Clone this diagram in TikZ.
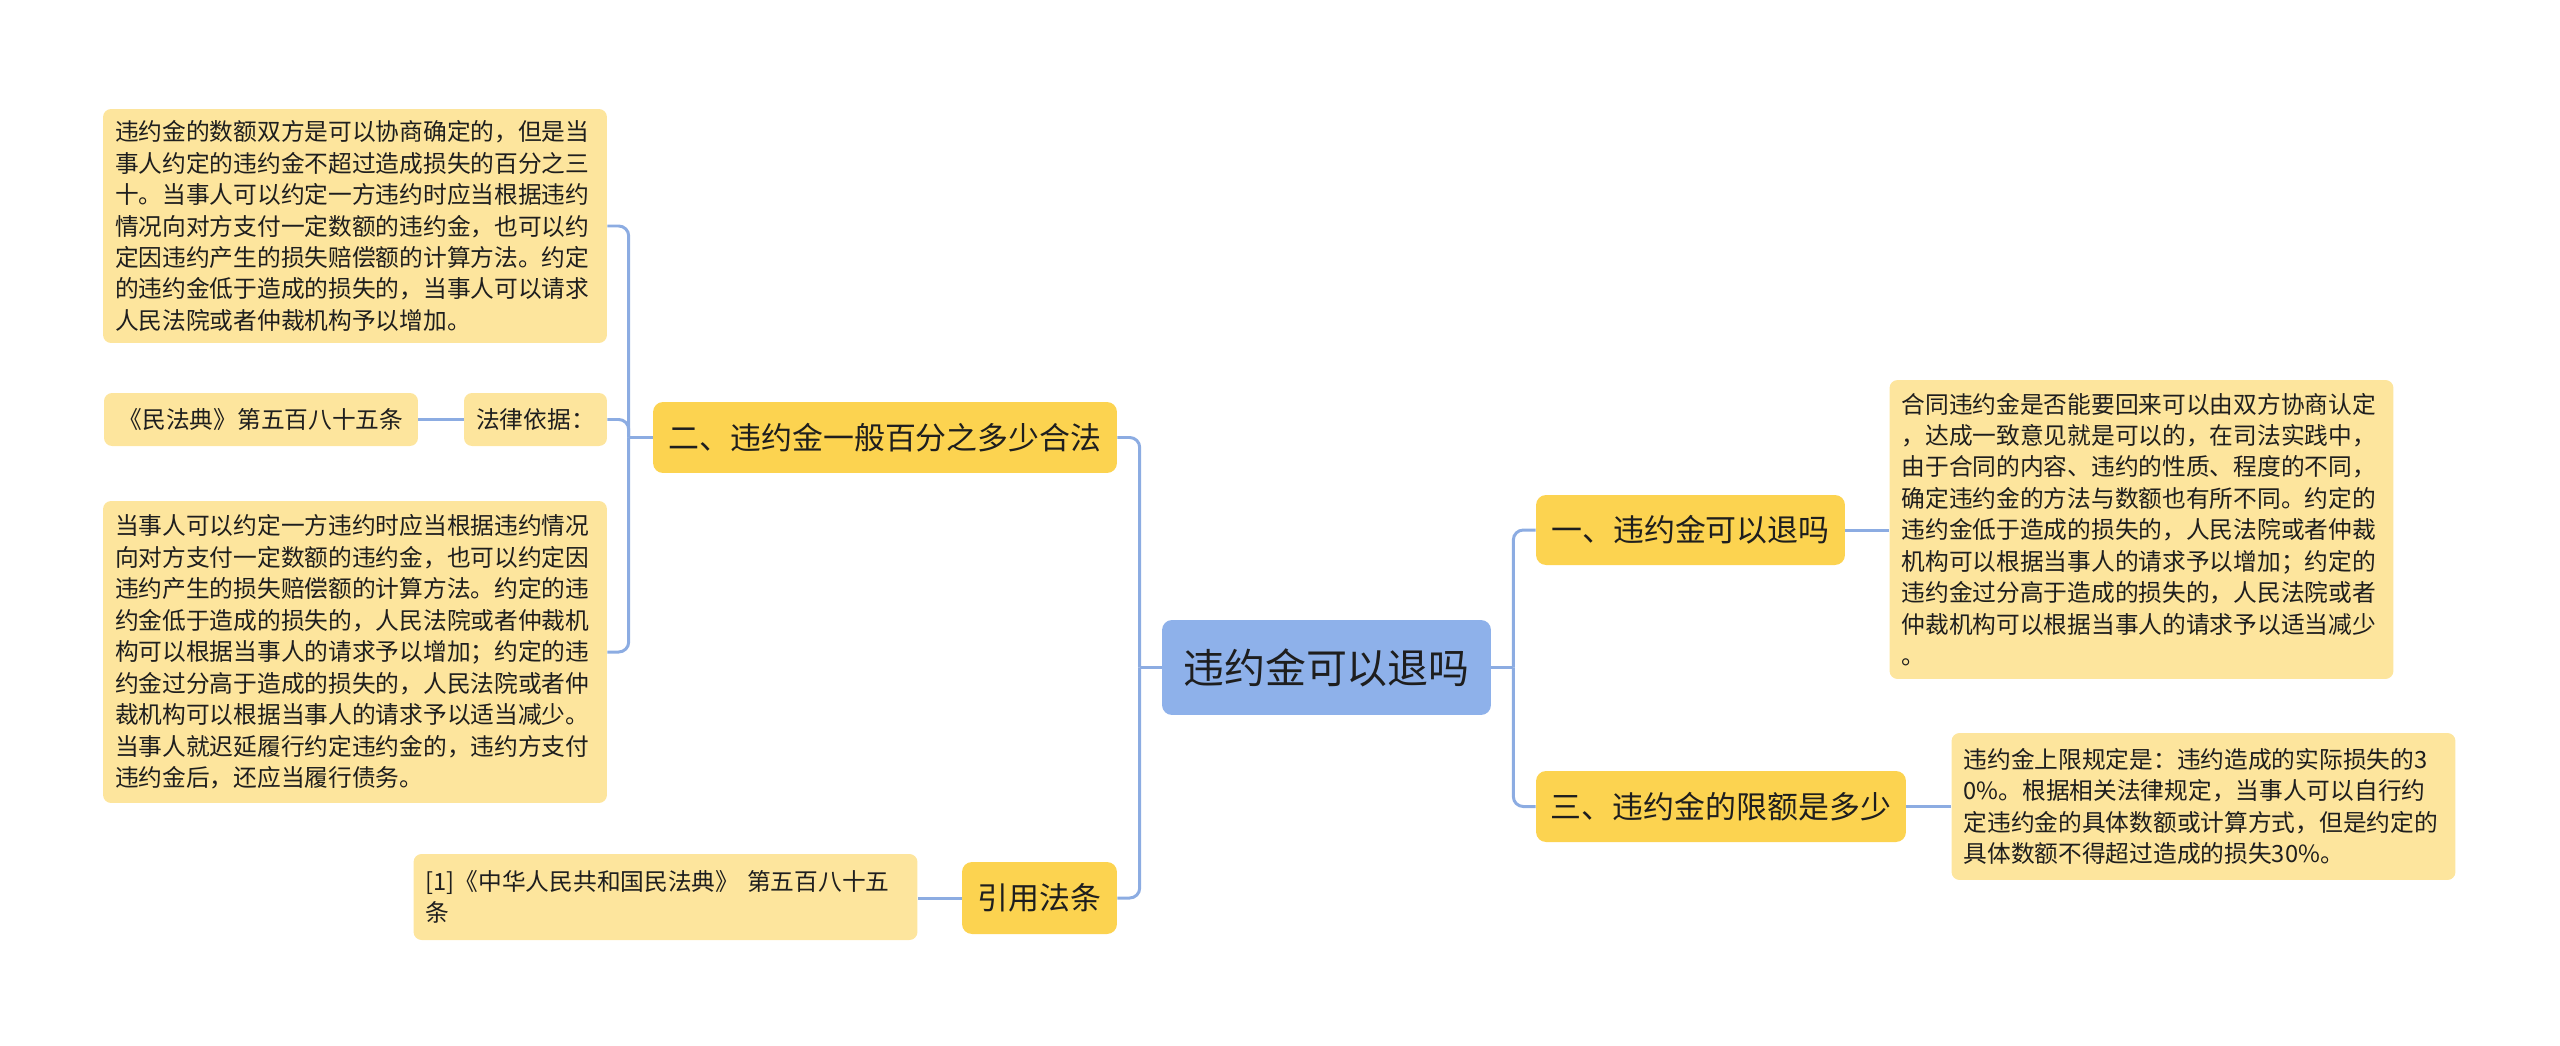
\documentclass[tikz,border=0pt]{standalone}
\usepackage{fontspec}
\newfontfamily\cjk{Noto Sans CJK SC}
\usepackage{tikz}
\definecolor{rootblue}{RGB}{142,177,234}
\definecolor{branchgold}{RGB}{252,211,80}
\definecolor{leafsand}{RGB}{253,229,157}
\definecolor{linkblue}{RGB}{140,172,226}
\definecolor{inkdark}{RGB}{30,30,30}

\begin{document}
\begin{tikzpicture}[x=0.02cm, y=-0.02cm,
				root/.style={fill=rootblue, text=inkdark, rounded corners=0.2cm, inner sep=0pt, font=\cjk\fontsize{23.3}{28}\selectfont},
				branch/.style={fill=branchgold, text=inkdark, rounded corners=0.2cm, inner sep=0pt, font=\cjk\fontsize{17.6}{21}\selectfont},
				leaf/.style={fill=leafsand, text=inkdark, rounded corners=0.16cm, inner xsep=0.24cm, inner ysep=0pt, text width=9.6cm, align=left, font=\cjk\fontsize{13.5}{17.9}\selectfont},
				tag/.style={fill=leafsand, text=inkdark, rounded corners=0.16cm, inner sep=0pt, font=\cjk\fontsize{13.5}{17.9}\selectfont},
				link/.style={draw=linkblue, line width=1.7pt, rounded corners=0.2cm}]
				%Bildbereich
				\useasboundingbox (0,0) rectangle (2560,1045);
				% Wurzel
				\node[root, minimum width=6.58cm, minimum height=1.9cm] (root) at (1326.5,667.5) {违约金可以退吗};
				% Hauptaeste
				\node[branch, minimum width=6.18cm, minimum height=1.4cm] (b1) at (1690.5,530) {一、违约金可以退吗};
				\node[branch, minimum width=7.4cm, minimum height=1.42cm] (b3) at (1721,806.5) {三、违约金的限额是多少};
				\node[branch, minimum width=9.28cm, minimum height=1.42cm] (b2) at (885,437.5) {二、违约金一般百分之多少合法};
				\node[branch, minimum width=3.1cm, minimum height=1.44cm] (b4) at (1039.5,898) {引用法条};
				% Blaetter rechts
				\node[leaf, minimum height=5.98cm] (leafC) at (2141.5,529.5) {合同违约金是否能要回来可以由双方协商认定\\，达成一致意见就是可以的，在司法实践中，\\由于合同的内容、违约的性质、程度的不同，\\确定违约金的方法与数额也有所不同。约定的\\违约金低于造成的损失的，人民法院或者仲裁\\机构可以根据当事人的请求予以增加；约定的\\违约金过分高于造成的损失的，人民法院或者\\仲裁机构可以根据当事人的请求予以适当减少\\。};
				\node[leaf, minimum height=2.94cm] (leafD) at (2203.5,806.5) {违约金上限规定是：违约造成的实际损失的3\\0\%。根据相关法律规定，当事人可以自行约\\定违约金的具体数额或计算方式，但是约定的\\具体数额不得超过造成的损失30\%。};
				% Blaetter links
				\node[leaf, minimum height=4.68cm] (leafA) at (355,226) {违约金的数额双方是可以协商确定的，但是当\\事人约定的违约金不超过造成损失的百分之三\\十。当事人可以约定一方违约时应当根据违约\\情况向对方支付一定数额的违约金，也可以约\\定因违约产生的损失赔偿额的计算方法。约定\\的违约金低于造成的损失的，当事人可以请求\\人民法院或者仲裁机构予以增加。};
				\node[tag, minimum width=2.86cm, minimum height=1.06cm] (basis) at (535.5,419.5) {法律依据：};
				\node[tag, minimum width=6.28cm, minimum height=1.06cm] (lawref) at (261,419.5) {《民法典》第五百八十五条};
				\node[leaf, minimum height=6.04cm] (leafB) at (355,652) {当事人可以约定一方违约时应当根据违约情况\\向对方支付一定数额的违约金，也可以约定因\\违约产生的损失赔偿额的计算方法。约定的违\\约金低于造成的损失的，人民法院或者仲裁机\\构可以根据当事人的请求予以增加；约定的违\\约金过分高于造成的损失的，人民法院或者仲\\裁机构可以根据当事人的请求予以适当减少。\\当事人就迟延履行约定违约金的，违约方支付\\违约金后，还应当履行债务。};
				\node[leaf, minimum height=1.72cm] (cite) at (665.5,897) {[1]《中华人民共和国民法典》 第五百八十五\\条};
				% Verbindungen rechts
				\draw[link] (root.east) -- ++(22,0) coordinate (rj);
				\draw[link] (rj) |- (b1.west);
				\draw[link] (rj) |- (b3.west);
				\draw[link] (b1.east) -- (b1.east -| leafC.west);
				\draw[link] (b3.east) -- (b3.east -| leafD.west);
				% Verbindungen links
				\draw[link] (root.west) -- ++(-22,0) coordinate (lj);
				\draw[link] (lj) |- (b2.east);
				\draw[link] (lj) |- (b4.east);
				\draw[link] (b4.west) -- (b4.west -| cite.east);
				\draw[link] (b2.west) -- ++(-24,0) coordinate (mj);
				\draw[link] (mj) |- (leafA.east);
				\draw[link] (mj) |- (basis.east);
				\draw[link] (mj) |- (leafB.east);
				\draw[link] (basis.west) -- (lawref.east);
			\end{tikzpicture}
\end{document}
